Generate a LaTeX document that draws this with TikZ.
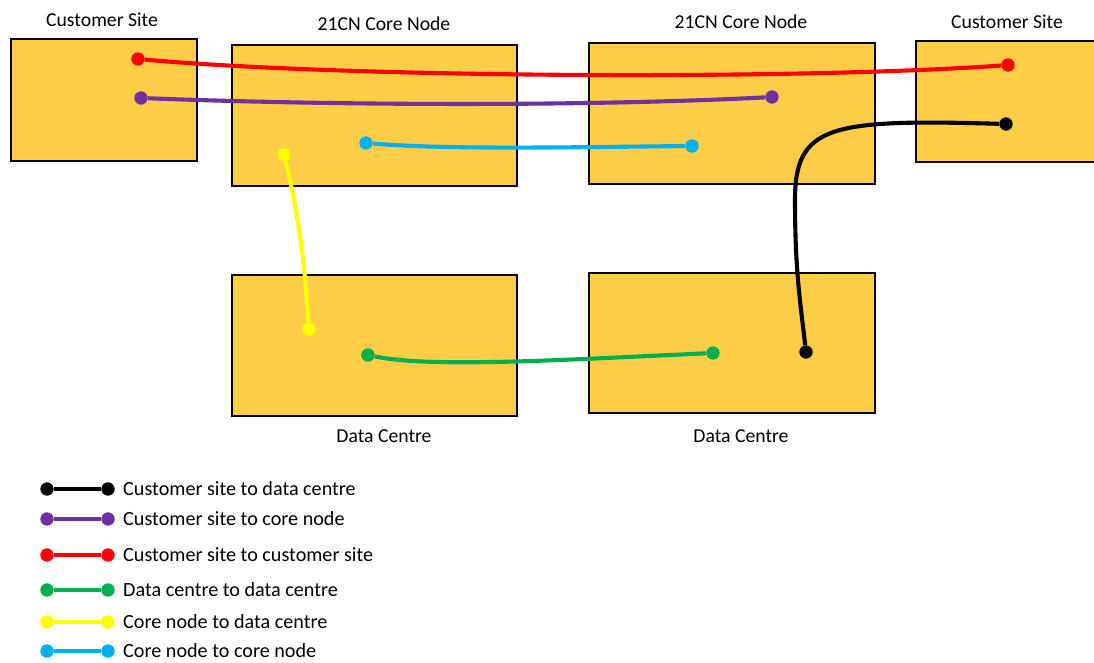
\documentclass[tikz,border=0pt]{standalone}
\usepackage{fontspec}
\setmainfont{Carlito}
\usepackage{xcolor}
\usepackage{tikz}
\usetikzlibrary{calc}
\definecolor{boxfill}{HTML}{FDCD47}
\definecolor{cred}{HTML}{FF0000}
\definecolor{cpurple}{HTML}{7030A0}
\definecolor{ccyan}{HTML}{00B0F0}
\definecolor{cyellow}{HTML}{FFFF00}
\definecolor{cgreen}{HTML}{00B050}
\definecolor{cblack}{HTML}{000000}
\tikzset{
  site/.style={draw=black, line width=2.5pt, fill=boxfill, inner sep=0pt},
  title/.style={font=\fontsize{16.8}{19}\selectfont, inner sep=0pt},
  key/.style={font=\fontsize{17.2}{19}\selectfont, inner sep=0pt, anchor=west},
  link/.style={line width=3.5pt, draw=#1},
  pt/.style={circle, fill=#1, draw=none, inner sep=0pt, minimum size=0.4cm}
}
\newcommand{\SiteBox}[5]{% name, centre x, centre y, width, height (px)
  \node[site, minimum width=#4*0.03cm, minimum height=#5*0.03cm] (#1) at (#2,#3) {};
}

\begin{document}
\begin{tikzpicture}[x=0.03cm, y=-0.03cm]
  \useasboundingbox (0,0) rectangle (1094,662);
  % boxes
  \SiteBox{csl}{104}{100}{186}{122}
  \SiteBox{core1}{374.5}{115.5}{285}{141}
  \SiteBox{core2}{732}{113.5}{286}{141}
  \SiteBox{csr}{1009}{101.5}{186}{121}
  \SiteBox{dc1}{374.5}{345.5}{285}{141}
  \SiteBox{dc2}{732}{343}{286}{140}
  % titles
  \node[title] (tcsl) at (102,20) {Customer Site};
  \node[title] (tcore1) at (384,24) {21CN Core Node};
  \node[title] (tcore2) at (741,22) {21CN Core Node};
  \node[title] (tcsr) at (1007,22) {Customer Site};
  \node[title] (tdc1) at (384,436) {Data Centre};
  \node[title] (tdc2) at (741,436) {Data Centre};
  % end points
  \node[pt=cred] (r1) at (138,59) {};
  \node[pt=cred] (r2) at (1008,65) {};
  \node[pt=cpurple] (p1) at (141,98) {};
  \node[pt=cpurple] (p2) at (772,97) {};
  \node[pt=ccyan] (c1) at (366,143) {};
  \node[pt=ccyan] (c2) at (692,146) {};
  \node[pt=cyellow] (y1) at (284,155) {};
  \node[pt=cyellow] (y2) at (309,329) {};
  \node[pt=cgreen] (g1) at (368,355) {};
  \node[pt=cgreen] (g2) at (713,353) {};
  \node[pt=cblack] (b1) at (1006,124) {};
  \node[pt=cblack] (b2) at (806,352) {};
  \coordinate (bend) at (795,200);
  % links
  \draw[link=cred] (r1) .. controls (350,78) and (800,80) .. (r2);
  \draw[link=cpurple] (p1) .. controls (350,106) and (600,106) .. (p2);
  \draw[link=ccyan] (c1) .. controls (450,150) and (580,147) .. (c2);
  \draw[link=cyellow] (y1) .. controls (300,220) and (305,270) .. (y2);
  \draw[link=cgreen] (g1) .. controls (430,368) and (560,360) .. (g2);
  \draw[link=cblack] (b1) .. controls (830,119) and (795,125) .. (bend)
    .. controls (795,270) and (800,300) .. (b2);
  % legend
  \foreach \i/\c/\y/\t in {1/cblack/489/Customer site to data centre,
      2/cpurple/519/Customer site to core node,
      3/cred/555/Customer site to customer site,
      4/cgreen/590/Data centre to data centre,
      5/cyellow/622/Core node to data centre,
      6/ccyan/651/Core node to core node}{
    \node[pt=\c] (la\i) at (47,\y) {};
    \node[pt=\c] (lb\i) at (108,\y) {};
    \draw[link=\c] (la\i) -- (lb\i);
    \node[key] (lt\i) at (123,\y) {\t};
  }
\end{tikzpicture}
\end{document}
